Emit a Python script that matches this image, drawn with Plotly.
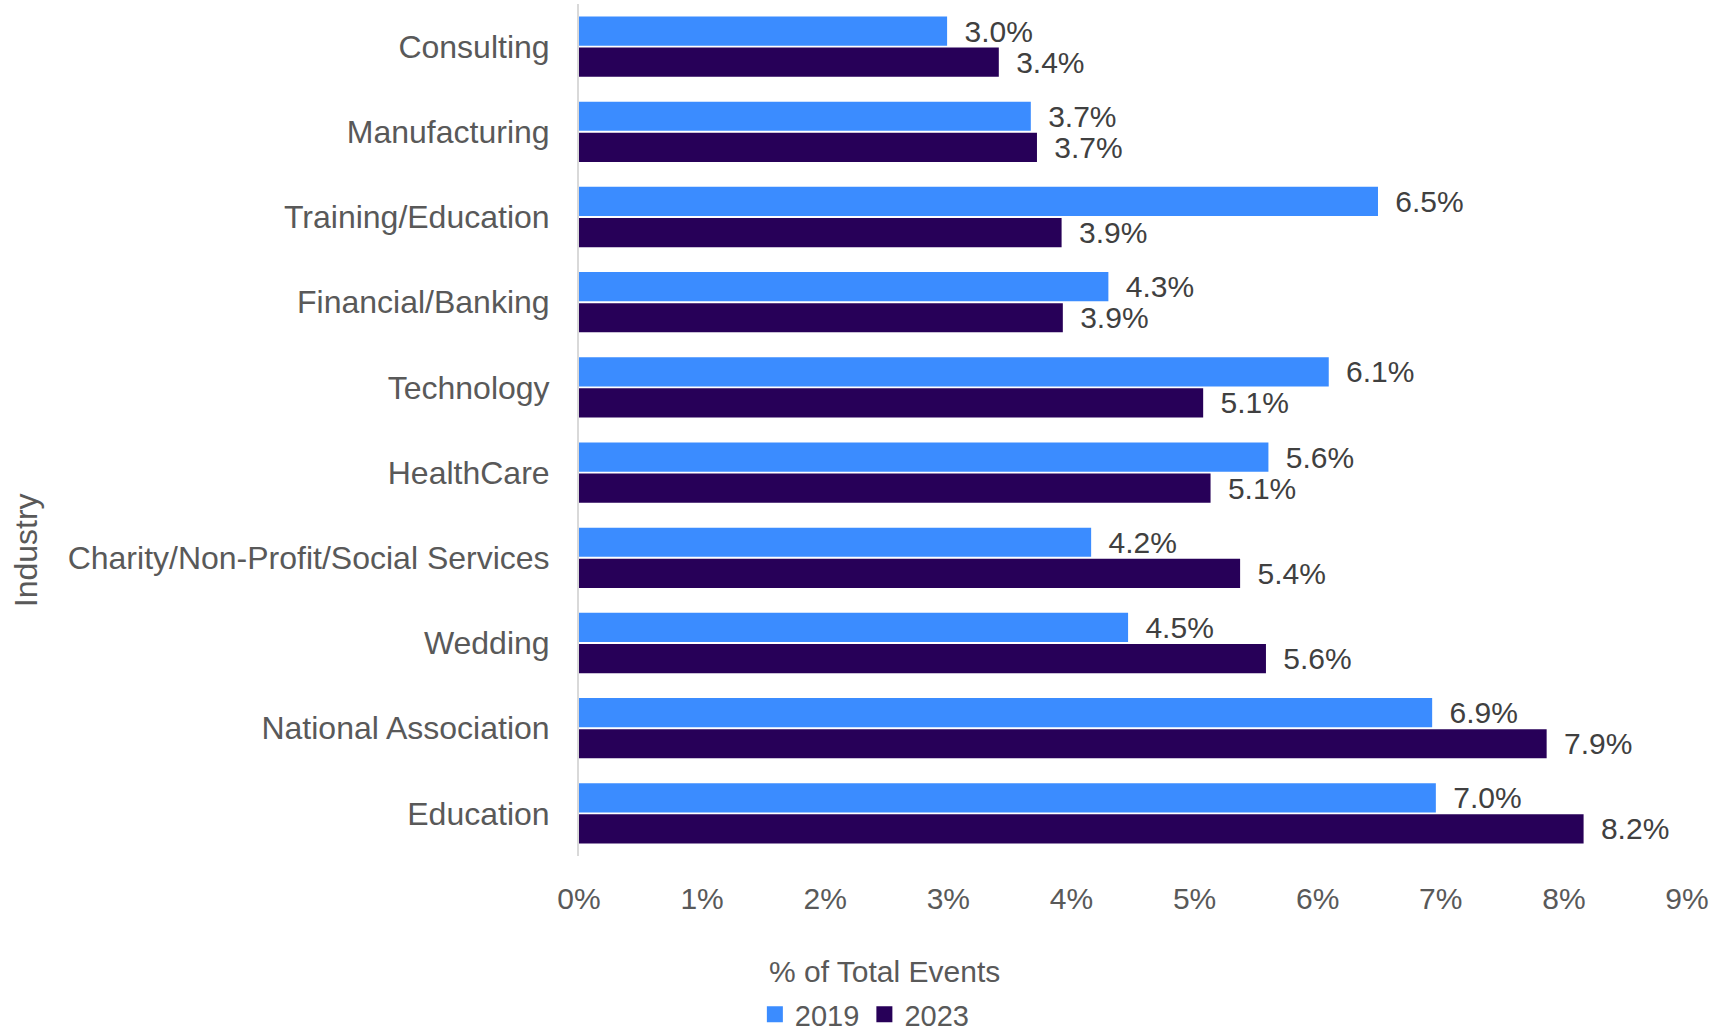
import plotly.graph_objects as go

industries = ["Consulting", "Manufacturing", "Training/Education", "Financial/Banking",
              "Technology", "HealthCare", "Charity/Non-Profit/Social Services",
              "Wedding", "National Association", "Education"]
values_2019 = [2.99, 3.67, 6.49, 4.30, 6.09, 5.60, 4.16, 4.46, 6.93, 6.96]
values_2023 = [3.41, 3.72, 3.92, 3.93, 5.07, 5.13, 5.37, 5.58, 7.86, 8.16]
x_ticks = [0, 1, 2, 3, 4, 5, 6, 7, 8, 9]
x_tick_labels = ["0%", "1%", "2%", "3%", "4%", "5%", "6%", "7%", "8%", "9%"]

C2019 = "#3B8CFF"
C2023 = "#270058"
FONT = "Liberation Sans"

fig = go.Figure()
for name, vals, col in [("2019", values_2019, C2019), ("2023", values_2023, C2023)]:
    fig.add_trace(go.Bar(
        y=industries, x=vals, name=name, orientation="h",
        marker=dict(color=col, line=dict(width=0)),
        texttemplate="\u00a0\u2009%{x:.1f}%", textposition="outside",
        textfont=dict(family=FONT, size=30, color="#404040"),
        constraintext="none", cliponaxis=False, showlegend=False,
    ))
    fig.add_trace(go.Scatter(
        x=[None], y=[None], mode="markers", name=name,
        marker=dict(symbol="square", size=24, color=col),
        showlegend=True,
    ))

fig.update_layout(
    width=1716, height=1034,
    margin=dict(l=579, r=29, t=4, b=178, autoexpand=False),
    paper_bgcolor="white", plot_bgcolor="white",
    barmode="group", bargap=0.27, bargroupgap=0.06,
    font=dict(family=FONT, color="#595959"),
    legend=dict(orientation="h", x=0.258, xanchor="center", y=-0.186, yanchor="middle",
                font=dict(family=FONT, size=29, color="#595959"),
                itemsizing="trace", itemwidth=30, tracegroupgap=0),
    xaxis=dict(range=[0, 9], tickvals=x_ticks, ticktext=x_tick_labels,
               showgrid=False, zeroline=False, showline=False,
               tickfont=dict(family=FONT, size=30, color="#595959"),
               ticks="", ticklabelstandoff=22),
    yaxis=dict(autorange="reversed", showgrid=False, zeroline=False,
               showline=True, linecolor="#D9D9D9", linewidth=2,
               tickfont=dict(family=FONT, size=32, color="#595959"),
               ticks="", ticklabelstandoff=21),
    annotations=[
        dict(text="% of Total Events", xref="paper", yref="paper", x=0.276, y=-0.135,
             xanchor="center", yanchor="middle", showarrow=False,
             font=dict(family=FONT, size=30, color="#595959")),
        dict(text="Industry", xref="paper", yref="paper", x=-0.499, y=0.359,
             xanchor="center", yanchor="middle", showarrow=False, textangle=-90,
             font=dict(family=FONT, size=32, color="#595959")),
    ],
)

fig.write_html("out.html")
